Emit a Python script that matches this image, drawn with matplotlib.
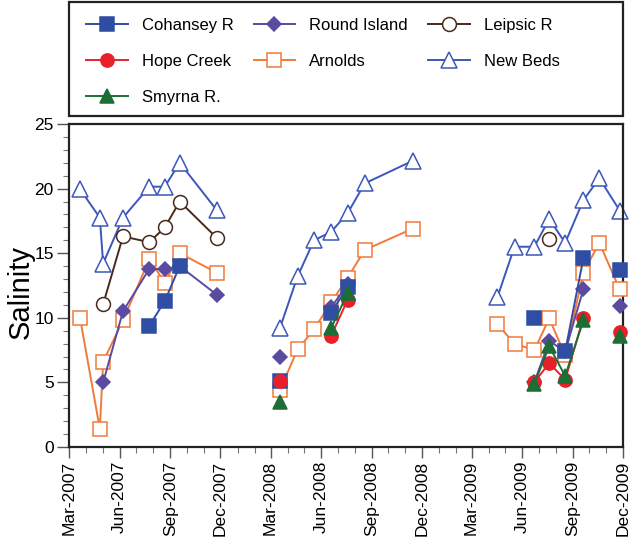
import numpy as np
import matplotlib
matplotlib.use("Agg")
import matplotlib.pyplot as plt
import matplotlib.dates as mdates
from matplotlib.patches import Rectangle
from datetime import datetime

plt.rcParams['font.family'] = ['Liberation Sans', 'DejaVu Sans']

nan = np.nan

# Sampling dates, grouped by season (lines break between seasons)
dates_2007 = ["2007-03-21", "2007-04-26", "2007-05-02", "2007-06-07",
              "2007-07-25", "2007-08-22", "2007-09-18", "2007-11-24"]
dates_2008 = ["2008-03-18", "2008-04-19", "2008-05-19", "2008-06-19",
              "2008-07-19", "2008-08-19", "2008-11-14"]
dates_2009 = ["2009-04-17", "2009-05-18", "2009-06-23", "2009-07-20",
              "2009-08-18", "2009-09-20", "2009-10-19", "2009-11-25"]

# Salinity per site and season
cohansey_2007 = [nan, nan, nan, nan, 9.4, 11.3, 14.0, nan]
cohansey_2008 = [5.1, nan, nan, 10.4, 12.4, nan, nan]
cohansey_2009 = [nan, nan, 10.0, nan, 7.4, 14.6, nan, 13.7]

round_2007 = [nan, nan, 5.0, 10.5, 13.8, 13.75, 14.0, 11.8]
round_2008 = [7.0, nan, nan, 10.8, 12.6, nan, nan]
round_2009 = [nan, nan, 5.0, 8.2, 7.4, 12.2, nan, 10.9]

leipsic_2007 = [nan, nan, 11.05, 16.3, 15.85, 17.0, 19.0, 16.2]
leipsic_2008 = [nan, nan, nan, nan, nan, nan, nan]
leipsic_2009 = [nan, nan, nan, 16.1, nan, nan, nan, nan]

hope_2007 = [nan] * 8
hope_2008 = [5.1, nan, nan, 8.6, 11.4, nan, nan]
hope_2009 = [nan, nan, 5.0, 6.5, 5.2, 10.0, nan, 8.9]

arnolds_2007 = [10.0, 1.4, 6.6, 9.8, 14.55, 12.7, 15.0, 13.5]
arnolds_2008 = [4.4, 7.55, 9.1, 11.2, 13.1, 15.25, 16.9]
arnolds_2009 = [9.5, 8.0, 7.5, 9.95, 7.1, 13.5, 15.8, 12.2]

newbeds_2007 = [19.95, 17.75, 14.2, 17.75, 20.15, 20.15, 22.0, 18.35]
newbeds_2008 = [9.2, 13.2, 16.0, 16.65, 18.1, 20.4, 22.15]
newbeds_2009 = [11.6, 15.5, 15.5, 17.65, 15.8, 19.1, 20.8, 18.3]

smyrna_2007 = [nan] * 8
smyrna_2008 = [3.5, nan, nan, 9.2, 11.9, nan, nan]
smyrna_2009 = [nan, nan, 4.9, 7.8, 5.5, 9.8, nan, 8.6]

season_dates = [dates_2007, dates_2008, dates_2009]

sites = [
    dict(label="Cohansey R", data=[cohansey_2007, cohansey_2008, cohansey_2009],
         color="#2f4ea3", marker="s", ms=9.5, mfc="#2f4ea3", mec="#2f4ea3"),
    dict(label="Hope Creek", data=[hope_2007, hope_2008, hope_2009],
         color="#e8202a", marker="o", ms=9.5, mfc="#e8202a", mec="#e8202a"),
    dict(label="Smyrna R.", data=[smyrna_2007, smyrna_2008, smyrna_2009],
         color="#1c6e34", marker="^", ms=9.5, mfc="#1c6e34", mec="#1c6e34"),
    dict(label="Round Island", data=[round_2007, round_2008, round_2009],
         color="#5a4aa0", marker="D", ms=7.5, mfc="#5a4aa0", mec="#5a4aa0"),
    dict(label="Arnolds", data=[arnolds_2007, arnolds_2008, arnolds_2009],
         color="#f07a3a", marker="s", ms=10, mfc="white", mec="#f07a3a"),
    dict(label="Leipsic R", data=[leipsic_2007, leipsic_2008, leipsic_2009],
         color="#4a2a1c", marker="o", ms=10, mfc="white", mec="#4a2a1c"),
    dict(label="New Beds", data=[newbeds_2007, newbeds_2008, newbeds_2009],
         color="#3d57b8", marker="^", ms=11, mfc="white", mec="#3d57b8"),
]

# Drawing order (back to front)
draw_order = ["New Beds", "Leipsic R", "Arnolds", "Round Island",
              "Cohansey R", "Hope Creek", "Smyrna R."]

W, H = 629, 541
fig = plt.figure(figsize=(W / 100, H / 100), dpi=100)
ax = fig.add_axes([69 / W, 1 - 447 / H, (623 - 69) / W, (447 - 124) / H])

handles = {}
for z, name in enumerate(draw_order):
    s = next(d for d in sites if d["label"] == name)
    for k, (dts, vals) in enumerate(zip(season_dates, s["data"])):
        x = [datetime.strptime(d, "%Y-%m-%d") for d in dts]
        y = np.array(vals, dtype=float)
        ln, = ax.plot(x, y, color=s["color"], lw=1.4, marker=s["marker"],
                      ms=s["ms"], mfc=s["mfc"], mec=s["mec"], mew=1.1,
                      zorder=2 + z, clip_on=False)
        if k == 0:
            handles[name] = ln

ax.set_xlim(datetime(2007, 3, 1), datetime(2009, 12, 1))
ax.set_ylim(0, 25)

ax.xaxis.set_major_locator(mdates.MonthLocator(bymonth=[3, 6, 9, 12]))
ax.xaxis.set_minor_locator(mdates.MonthLocator())
ax.xaxis.set_major_formatter(mdates.DateFormatter("%b-%Y"))
ax.yaxis.set_major_locator(plt.MultipleLocator(5))
ax.yaxis.set_minor_locator(plt.MultipleLocator(1))

for lab in ax.get_xticklabels():
    lab.set_rotation(90)

ax.tick_params(axis="both", which="major", labelsize=12.5, direction="out",
               width=1.0, color="#555555")
ax.tick_params(axis="y", which="major", length=9, pad=2)
ax.tick_params(axis="x", which="major", length=8, pad=2)
ax.tick_params(axis="both", which="minor", direction="out", length=4,
               width=0.8, color="#777777")

for sp in ax.spines.values():
    sp.set_linewidth(1.6)
    sp.set_color("#222222")

ax.set_ylabel("Salinity", fontsize=21)
ax.yaxis.set_label_coords(-0.062, 0.48)

# Legend box spanning the plot width
fig.add_artist(Rectangle((69 / W, 1 - 116 / H), (623 - 69) / W, 114 / H,
                         transform=fig.transFigure, fill=False,
                         edgecolor="#222222", linewidth=1.6))

legend_order = ["Cohansey R", "Hope Creek", "Smyrna R.", "Round Island",
                "Arnolds", "Leipsic R", "New Beds"]
fig.legend([handles[n] for n in legend_order], legend_order,
           loc="upper left", ncol=3, frameon=False,
           bbox_to_anchor=(86 / W, 1 - 18 / H),
           fontsize=12, handlelength=2.5, handletextpad=0.85,
           labelspacing=1.25, borderpad=0.0, borderaxespad=0.0,
           columnspacing=1.2)

fig.savefig("out.png", dpi=100)
